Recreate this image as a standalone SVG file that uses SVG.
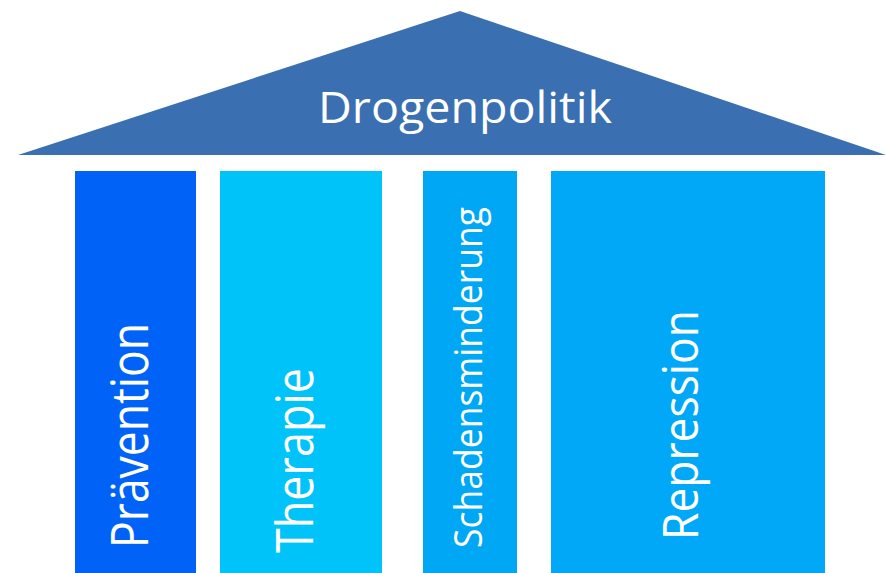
<svg xmlns="http://www.w3.org/2000/svg" width="886" height="573" viewBox="0 0 886 573">
<style>
.lbl{font-family:"Open Sans","Noto Sans","Liberation Sans",sans-serif;fill:#ffffff;}
</style>
<rect x="0" y="0" width="886" height="573" fill="#ffffff"/>
<g id="roof">
<polygon points="18,155 460,11 886,155" fill="#3A6FB1"/>
<text class="lbl" x="465" y="123" font-size="43" text-anchor="middle" textLength="294" lengthAdjust="spacingAndGlyphs">Drogenpolitik</text>
</g>
<g id="praevention">
<rect x="75" y="171" width="121" height="402" fill="#0062F7"/>
<text class="lbl" transform="translate(148,548) rotate(-90)" x="0" y="0" font-size="51" textLength="225" lengthAdjust="spacingAndGlyphs">Prävention</text>
</g>
<g id="therapie">
<rect x="220" y="171" width="162" height="402" fill="#00C3F9"/>
<text class="lbl" transform="translate(313,553) rotate(-90)" x="0" y="0" font-size="51" textLength="185" lengthAdjust="spacingAndGlyphs">Therapie</text>
</g>
<g id="schadensminderung">
<rect x="423" y="171" width="94" height="402" fill="#00A7F5"/>
<text class="lbl" transform="translate(482,548) rotate(-90)" x="0" y="0" font-size="39" textLength="341" lengthAdjust="spacingAndGlyphs">Schadensminderung</text>
</g>
<g id="repression">
<rect x="551" y="171" width="274" height="402" fill="#00A8F7"/>
<text class="lbl" transform="translate(698,540) rotate(-90)" x="0" y="0" font-size="49" textLength="230" lengthAdjust="spacingAndGlyphs">Repression</text>
</g>
<g id="connectors"></g>
</svg>
